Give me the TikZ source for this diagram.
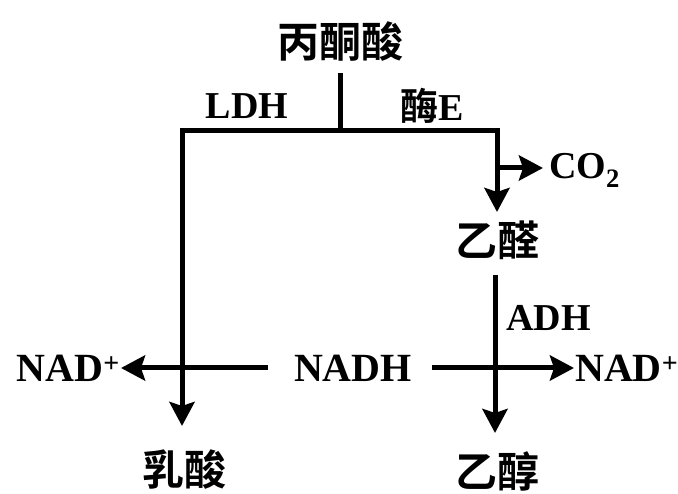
\documentclass[tikz,border=0pt]{standalone}
\usepackage{fontspec}
\setmainfont{Liberation Serif}
\newfontfamily\cjk{Noto Sans CJK SC}[BoldFont={Noto Sans CJK SC Bold}]
\usetikzlibrary{arrows.meta}
\begin{document}
\begin{tikzpicture}[x=1pt,y=-1pt,
  lbl/.style={inner sep=0pt,font=\fontsize{38}{38}\selectfont\bfseries},
  cj/.style={inner sep=0pt,font=\fontsize{42}{42}\selectfont\cjk\bfseries},
  ln/.style={line width=5pt},
  arr/.style={line width=5pt,-{Stealth[length=24pt,width=25pt,inset=4pt]}}]
\useasboundingbox (0,0) rectangle (678,494);
% nodes
\node[cj] (py) at (340,42) {丙酮酸};
\node[lbl] (ldh) at (247,106) {LDH};
\node[lbl,anchor=west] (enzE) at (400,106) {{\cjk 酶}E};
\node[lbl,anchor=west] (co2) at (549,170) {CO\textsubscript{2}};
\node[cj] (yq) at (497,240) {乙醛};
\node[lbl,anchor=west] (adh) at (506,318) {ADH};
\node[lbl,font=\fontsize{40}{40}\selectfont\bfseries] (nadh) at (353,368) {NADH};
\node[lbl,anchor=east,font=\fontsize{40}{40}\selectfont\bfseries] (nadL) at (120,368) {NAD\textsuperscript{+}};
\node[lbl,anchor=west,font=\fontsize{40}{40}\selectfont\bfseries] (nadR) at (575,368) {NAD\textsuperscript{+}};
\node[cj] (ru) at (184,470) {乳酸};
\node[cj] (yc) at (497,471) {乙醇};
% coordinates
\coordinate (t) at (340,73);
\coordinate (j) at (340,131);
\coordinate (cL) at (182,131);
\coordinate (cR) at (497,131);
\coordinate (tipL) at (182,426);
\coordinate (tipY) at (497,212);
\coordinate (co2a) at (497,168);
\coordinate (co2b) at (543,168);
\coordinate (ycA) at (495,275);
\coordinate (ycB) at (495,433);
\coordinate (nL1) at (268,368);
\coordinate (nL2) at (121,368);
\coordinate (nR1) at (432,368);
\coordinate (nR2) at (574,368);
% connectors
\draw[ln] (t) -- (j);
\draw[ln,line cap=rect] (cL) -- (cR);
\draw[arr] (cL) -- (tipL);
\draw[arr] (cR) -- (tipY);
\draw[arr] (co2a) -- (co2b);
\draw[arr] (ycA) -- (ycB);
\draw[arr] (nL1) -- (nL2);
\draw[arr] (nR1) -- (nR2);
\end{tikzpicture}
\end{document}
